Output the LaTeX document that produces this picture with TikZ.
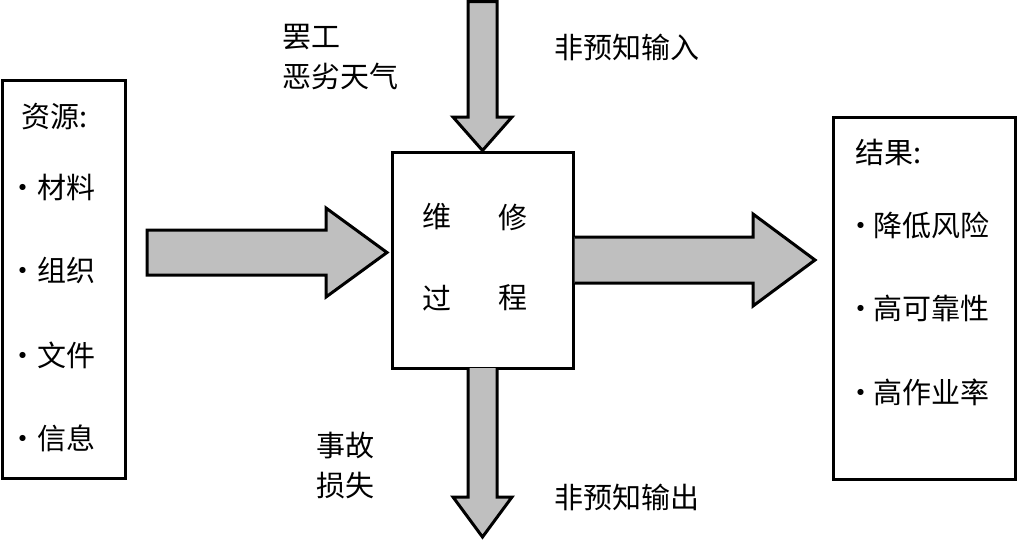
\documentclass[tikz,border=0pt]{standalone}
\usepackage{fontspec}
\setmainfont{Noto Sans CJK SC}
\begin{document}
\begin{tikzpicture}[x=1pt,y=-1pt,
  frame/.style={draw=black,line width=3pt,fill=white,inner sep=0pt,minimum width=#1},
  blockarrow/.style={draw=black,line width=3pt,fill=black!25,line join=miter},
  txt/.style={inner sep=0pt,anchor=west,font=\fontsize{29}{40}\selectfont,align=left},
  bul/.style={inner sep=0pt,font=\fontsize{29}{40}\selectfont},
  dot/.style={inner sep=0pt,anchor=base,font=\fontsize{29}{40}\selectfont}]
\useasboundingbox (0,0) rectangle (1017,539);
% boxes
\node[frame=123pt,minimum height=398pt] (res) at (63.5,279) {};
\node[frame=181pt,minimum height=216pt] (proc) at (482.5,260) {};
\node[frame=182pt,minimum height=362pt] (out) at (924,298) {};
% arrows
\draw[blockarrow] (147,230) -- (326,230) -- (326,208) -- (387,252.5) -- (326,297) -- (326,275) -- (147,275) -- cycle;
\draw[blockarrow] (proc.east |- 0,237) -- (753,237) -- (753,214) -- (815,260) -- (753,306) -- (753,283) -- (proc.east |- 0,283);
\draw[blockarrow] (468,1.5) -- (497,1.5) -- (497,117) -- (512,117) -- (proc.north) -- (453,117) -- (468,117) -- cycle;
\draw[blockarrow] (468,368) -- (468,497) -- (453,497) -- (482.5,537) -- (512,497) -- (497,497) -- (497,368);
% left box text
\node[txt] (resT) at (21,117) {资源:};
\node[txt] (r1) at (37,187) {材料}; \node[dot] (b1) at (r1.base -| 23,0) {•};
\node[txt] (r2) at (37,270) {组织}; \node[dot] (b2) at (r2.base -| 23,0) {•};
\node[txt] (r3) at (37,355) {文件}; \node[dot] (b3) at (r3.base -| 23,0) {•};
\node[txt] (r4) at (37,438) {信息}; \node[dot] (b4) at (r4.base -| 23,0) {•};
% process text
\node[bul] (p1) at (437,217) {维};
\node[bul] (p2) at (513,217) {修};
\node[bul] (p3) at (437,298) {过};
\node[bul] (p4) at (513,298) {程};
% right box text
\node[txt] (outT) at (855,152) {结果:};
\node[txt] (o1) at (873,225) {降低风险}; \node[dot] (c1) at (o1.base -| 861,0) {•};
\node[txt] (o2) at (873,308) {高可靠性}; \node[dot] (c2) at (o2.base -| 861,0) {•};
\node[txt] (o3) at (873,392) {高作业率}; \node[dot] (c3) at (o3.base -| 861,0) {•};
% labels
\node[txt] (l1) at (282,57) {罢工\\恶劣天气};
\node[txt] (l2) at (554,47) {非预知输入};
\node[txt] (l3) at (316,466) {事故\\损失};
\node[txt] (l4) at (554,497) {非预知输出};
\end{tikzpicture}
\end{document}
